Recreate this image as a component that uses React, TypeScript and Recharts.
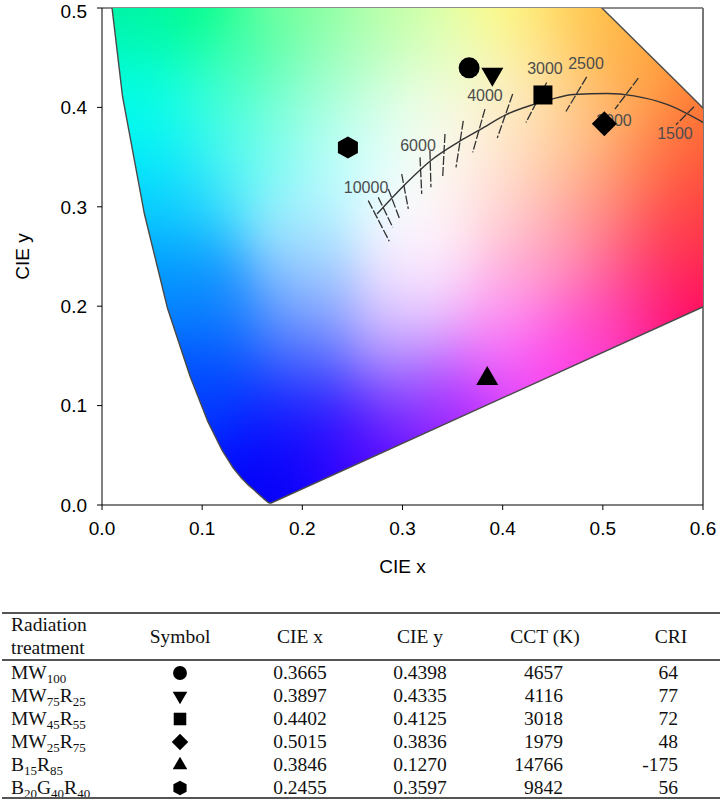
import React from 'react';
import { ScatterChart, Scatter, XAxis, YAxis, ReferenceLine } from 'recharts';

// spectral locus, 380 nm -> 700 nm
const locusX = [0.1690, 0.1688, 0.1686, 0.1684, 0.1682, 0.1680, 0.1676, 0.1670, 0.1663, 0.1652, 0.1638, 0.1619, 0.1594, 0.1561, 0.1518, 0.1462, 0.1394, 0.1310, 0.1198, 0.1056, 0.0877, 0.0654, 0.0423, 0.0205, 0.0055, 0.0039, 0.0139, 0.0389, 0.0743, 0.1142, 0.1547, 0.1929, 0.2296, 0.2658, 0.3016, 0.3373, 0.3731, 0.4087, 0.4441, 0.4788, 0.5125, 0.5448, 0.5752, 0.6029, 0.6270, 0.6658, 0.6915, 0.7079, 0.7190, 0.7260, 0.7347];
const locusY = [0.0020, 0.0020, 0.0020, 0.0020, 0.0020, 0.0020, 0.0020, 0.0020, 0.0024, 0.0031, 0.0042, 0.0059, 0.0082, 0.0111, 0.0150, 0.0200, 0.0270, 0.0372, 0.0551, 0.0841, 0.1300, 0.1980, 0.2930, 0.4110, 0.5384, 0.6548, 0.7502, 0.8120, 0.8338, 0.8262, 0.8059, 0.7816, 0.7543, 0.7243, 0.6923, 0.6589, 0.6245, 0.5896, 0.5547, 0.5202, 0.4866, 0.4544, 0.4242, 0.3965, 0.3725, 0.3340, 0.3083, 0.2920, 0.2809, 0.2740, 0.2610];

// black body curve
const planckX = [0.2747, 0.3030, 0.3280, 0.3580, 0.3780, 0.4040, 0.4310, 0.4480, 0.4710, 0.5040, 0.5310, 0.5640, 0.6000];
const planckY = [0.2929, 0.3230, 0.3464, 0.3665, 0.3780, 0.3930, 0.4030, 0.4080, 0.4130, 0.4140, 0.4116, 0.4030, 0.3850];

// isotherm ticks (two ends each)
const isoX1 = [0.2658, 0.2758, 0.2858, 0.2992, 0.3175, 0.3274, 0.3424, 0.3607, 0.3823, 0.4100, 0.4439, 0.4839, 0.5354, 0.5910];
const isoY1 = [0.3062, 0.3095, 0.3180, 0.3330, 0.3497, 0.3564, 0.3732, 0.3865, 0.3983, 0.4134, 0.4250, 0.4307, 0.4294, 0.4006];
const isoX2 = [0.2868, 0.2902, 0.2975, 0.3058, 0.3192, 0.3284, 0.3401, 0.3534, 0.3701, 0.3946, 0.4233, 0.4632, 0.5121, 0.5730];
const isoY2 = [0.2654, 0.2794, 0.2869, 0.2979, 0.3130, 0.3196, 0.3296, 0.3397, 0.3547, 0.3692, 0.3848, 0.3959, 0.3983, 0.3825];

const cctLabels = ['10000', '6000', '4000', '3000', '2500', '2000', '1500'];
const cctLabelX = [0.2636, 0.3155, 0.3823, 0.4422, 0.4832, 0.5111, 0.5720];
const cctLabelY = [0.3193, 0.3614, 0.4116, 0.4388, 0.4438, 0.3865, 0.3735];

const treatments = ['MW100', 'MW75R25', 'MW45R55', 'MW25R75', 'B15R85', 'B20G40R40'];
const symbols = ['circle', 'triangleDown', 'square', 'diamond', 'triangleUp', 'hexagon'];
const cieX = [0.3665, 0.3897, 0.4402, 0.5015, 0.3846, 0.2455];
const cieY = [0.4398, 0.4335, 0.4125, 0.3836, 0.1270, 0.3597];
const cct = [4657, 4116, 3018, 1979, 14766, 9842];
const cri = [64, 77, 72, 48, -175, 56];

const xTicks = [0, 0.1, 0.2, 0.3, 0.4, 0.5, 0.6];
const yTicks = [0, 0.1, 0.2, 0.3, 0.4, 0.5];
const X_MAX = 0.6;
const Y_MAX = 0.5;

// colour swatches picked from the diagram background
const swatchX = [0.015, 0.08, 0.2, 0.3, 0.4, 0.48, 0.03, 0.15, 0.25, 0.35, 0.45, 0.53, 0.03, 0.1, 0.2, 0.3, 0.4, 0.5, 0.6, 0.04, 0.15, 0.25, 0.35, 0.45, 0.55, 0.05, 0.1, 0.2, 0.3, 0.4, 0.5, 0.6, 0.06, 0.2, 0.32, 0.45, 0.55, 0.08, 0.12, 0.2, 0.3, 0.4, 0.5, 0.6, 0.1, 0.2, 0.3, 0.4, 0.48, 0.12, 0.2, 0.3, 0.38, 0.15, 0.2, 0.25, 0.28, 0.169,
  0.09, 0.06, 0.35, 0.45, 0.55, 0.6, 0.6, 0.55, 0.52, 0.0, 0.0, 0.0, 0.0, 0.05, 0.62, 0.62, 0.62];
const swatchY = [0.5, 0.5, 0.5, 0.5, 0.5, 0.5, 0.45, 0.45, 0.45, 0.45, 0.45, 0.45, 0.4, 0.4, 0.4, 0.4, 0.4, 0.4, 0.4, 0.35, 0.35, 0.35, 0.35, 0.35, 0.35, 0.3, 0.3, 0.3, 0.3, 0.3, 0.3, 0.3, 0.25, 0.25, 0.25, 0.25, 0.25, 0.2, 0.2, 0.2, 0.2, 0.2, 0.2, 0.2, 0.15, 0.15, 0.15, 0.15, 0.15, 0.1, 0.1, 0.1, 0.1, 0.05, 0.05, 0.05, 0.05, 0.0,
  0.13, 0.22, 0.08, 0.13, 0.176, 0.25, 0.35, 0.45, 0.48, 0.5, 0.4, 0.3, 0.2, 0.1, 0.45, 0.3, 0.15];
const swatchColor = [
  '#00F0A8', '#00FF80', '#80FF98', '#C4FFA0', '#FFFF80', '#FFD048',
  '#00FFC8', '#40FFA8', '#A8FFC0', '#E8FFC8', '#FFE8A0', '#FFB050',
  '#00FFF0', '#40FFE0', '#A0FFE0', '#F0FFF0', '#FFF0D0', '#FFC080', '#FF7030',
  '#00F0FF', '#60FFF0', '#C8FFFF', '#FFF8F0', '#FFD0A0', '#FF9050',
  '#00D0FF', '#40E0FF', '#B0F8FF', '#FFFFFF', '#FFD8D8', '#FF9080', '#FF4040',
  '#00A8FF', '#A0D8FF', '#FFF0FF', '#FFA0C0', '#FF5070',
  '#0080FF', '#2090FF', '#90B0FF', '#F0D8FF', '#FFB0F0', '#FF60B0', '#FF0050',
  '#0058FF', '#5070FF', '#C0A0FF', '#FF80FF', '#FF40E0',
  '#0030FF', '#2030FF', '#8050FF', '#D040FF',
  '#0000FF', '#1000FF', '#4000FF', '#6000FF',
  '#0000F0',
  '#0050FF', '#0090FF', '#9000FF', '#FF30F0', '#FF10A0', '#FF2048', '#FF5830', '#FF9A30', '#FFB840',
  '#00F0A0', '#00FFF0', '#00D0FF', '#0080FF', '#0030FF', '#FF8030', '#FF4040', '#FF0050',
];

const locusData = locusX.map((x, i) => ({ x, y: locusY[i] }));
const planckData = planckX.map((x, i) => ({ x, y: planckY[i] }));
const isoData = isoX1.flatMap((x, i) => [
  { x, y: isoY1[i] },
  { x: isoX2[i], y: isoY2[i] },
]);
const labelData = cctLabels.map((label, i) => ({ x: cctLabelX[i], y: cctLabelY[i], label }));
const markerData = treatments.map((name, i) => ({ x: cieX[i], y: cieY[i], kind: symbols[i], name }));

const SANS = '"Liberation Sans", Arial, sans-serif';
const SERIF = '"Liberation Serif", "Times New Roman", serif';

const gamutCache = new Map<string, string>();

function hexRgb(h: string) {
  const n = parseInt(h.slice(1), 16);
  return [(n >> 16) & 255, (n >> 8) & 255, n & 255];
}

// smooth colour field: gaussian-weighted blend of the swatches
function gamutImage(w: number, h: number) {
  const key = w + 'x' + h;
  const hit = gamutCache.get(key);
  if (hit) return hit;
  const canvas = document.createElement('canvas');
  canvas.width = w;
  canvas.height = h;
  const ctx = canvas.getContext('2d');
  if (!ctx) return '';
  const rgb = swatchColor.map(hexRgb);
  const n = swatchX.length;
  const inv = 1 / (2 * 0.042 * 0.042);
  const img = ctx.createImageData(w, h);
  for (let j = 0; j < h; j++) {
    const y = Y_MAX - ((j + 0.5) / h) * Y_MAX;
    for (let i = 0; i < w; i++) {
      const x = ((i + 0.5) / w) * X_MAX;
      let sr = 0, sg = 0, sb = 0, sw = 1e-30;
      for (let s = 0; s < n; s++) {
        const dx = x - swatchX[s];
        const dy = y - swatchY[s];
        const wt = Math.exp(-(dx * dx + dy * dy) * inv);
        sr += wt * rgb[s][0];
        sg += wt * rgb[s][1];
        sb += wt * rgb[s][2];
        sw += wt;
      }
      const k = (j * w + i) * 4;
      img.data[k] = Math.round(sr / sw);
      img.data[k + 1] = Math.round(sg / sw);
      img.data[k + 2] = Math.round(sb / sw);
      img.data[k + 3] = 255;
    }
  }
  ctx.putImageData(img, 0, 0);
  const url = canvas.toDataURL();
  gamutCache.set(key, url);
  return url;
}

function GamutFill(props: any) {
  const pts = props.points || [];
  if (pts.length !== locusX.length) return null;
  const last = pts.length - 1;
  const sx = (pts[last].x - pts[0].x) / (locusX[last] - locusX[0]);
  const sy = (pts[last].y - pts[0].y) / (locusY[last] - locusY[0]);
  const left = pts[0].x - locusX[0] * sx;
  const right = pts[0].x + (X_MAX - locusX[0]) * sx;
  const top = pts[0].y + (Y_MAX - locusY[0]) * sy;
  const bottom = pts[0].y - locusY[0] * sy;
  const w = right - left;
  const h = bottom - top;
  const url = gamutImage(Math.round(w / 2), Math.round(h / 2));
  const poly = pts.map((p: any) => p.x + ',' + p.y).join(' ');
  return (
    <g>
      <defs>
        <clipPath id="gamut-clip">
          <polygon points={poly} />
        </clipPath>
      </defs>
      <image href={url} x={left} y={top} width={w} height={h} preserveAspectRatio="none" clipPath="url(#gamut-clip)" />
      <polygon points={poly} fill="none" stroke="#4a4a4a" strokeWidth={1.4} />
    </g>
  );
}

function IsoTicks(props: any) {
  const pts = props.points || [];
  const segs = [];
  for (let i = 0; i + 1 < pts.length; i += 2) {
    segs.push(
      <line key={i} x1={pts[i].x} y1={pts[i].y} x2={pts[i + 1].x} y2={pts[i + 1].y}
        stroke="#333" strokeWidth={1.3} strokeDasharray="9 2" />
    );
  }
  return <g>{segs}</g>;
}

function Marker({ kind, cx, cy, k = 1 }: { kind: string; cx: number; cy: number; k?: number }) {
  if (kind === 'circle') return <circle cx={cx} cy={cy} r={10.5 * k} fill="#000" />;
  if (kind === 'square') {
    const s = 19 * k;
    return <rect x={cx - s / 2} y={cy - s / 2} width={s} height={s} fill="#000" />;
  }
  if (kind === 'diamond') {
    const s = 12.5 * k;
    return <polygon points={`${cx},${cy - s} ${cx + s},${cy} ${cx},${cy + s} ${cx - s},${cy}`} fill="#000" />;
  }
  if (kind === 'triangleDown') {
    const w = 22 * k, h = 19 * k;
    return <polygon points={`${cx - w / 2},${cy - h / 3} ${cx + w / 2},${cy - h / 3} ${cx},${cy + (2 * h) / 3}`} fill="#000" />;
  }
  if (kind === 'triangleUp') {
    const w = 22 * k, h = 19 * k;
    return <polygon points={`${cx - w / 2},${cy + h / 3} ${cx + w / 2},${cy + h / 3} ${cx},${cy - (2 * h) / 3}`} fill="#000" />;
  }
  const w = 20 * k, h = 22 * k;
  return (
    <polygon
      points={`${cx},${cy - h / 2} ${cx + w / 2},${cy - h / 4} ${cx + w / 2},${cy + h / 4} ${cx},${cy + h / 2} ${cx - w / 2},${cy + h / 4} ${cx - w / 2},${cy - h / 4}`}
      fill="#000"
    />
  );
}

const noDot = () => <g />;

function Chart() {
  return (
    <ScatterChart width={720} height={610} margin={{ top: 8, right: 17, bottom: 0, left: 0 }}>
      <XAxis
        type="number"
        dataKey="x"
        domain={[0, X_MAX]}
        ticks={xTicks}
        allowDataOverflow
        height={105}
        stroke="#000"
        tickSize={5}
        tickMargin={12}
        tickFormatter={(v: number) => v.toFixed(1)}
        tick={{ fill: '#000', fontSize: 19, fontFamily: SANS }}
        label={{
          content: (p: any) => (
            <text x={p.viewBox.x + p.viewBox.width / 2} y={p.viewBox.y + 61} textAnchor="middle"
              dominantBaseline="central" fontSize={19} fontFamily={SANS} fill="#000">CIE x</text>
          ),
        }}
      />
      <YAxis
        type="number"
        dataKey="y"
        domain={[0, Y_MAX]}
        ticks={yTicks}
        allowDataOverflow
        width={102}
        stroke="#000"
        tickSize={5}
        tickMargin={10}
        tickFormatter={(v: number) => v.toFixed(1)}
        tick={{ fill: '#000', fontSize: 19, fontFamily: SANS }}
        label={{
          content: (p: any) => {
            const cx = p.viewBox.x + 22;
            const cy = p.viewBox.y + p.viewBox.height / 2;
            return (
              <text x={cx} y={cy} transform={`rotate(-90 ${cx} ${cy})`} textAnchor="middle"
                dominantBaseline="central" fontSize={19} fontFamily={SANS} fill="#000">CIE y</text>
            );
          },
        }}
      />
      <Scatter data={locusData} line={GamutFill} lineType="joint" shape={noDot} isAnimationActive={false} />
      <Scatter data={planckData} line={{ stroke: '#333', strokeWidth: 1.4 }} lineJointType="monotoneX"
        shape={noDot} isAnimationActive={false} />
      <Scatter data={isoData} line={IsoTicks} lineType="joint" shape={noDot} isAnimationActive={false} />
      <Scatter
        data={labelData}
        isAnimationActive={false}
        shape={(p: any) => (
          <text x={p.cx} y={p.cy} textAnchor="middle" dominantBaseline="central" fontSize={16}
            fontFamily={SANS} fill="#4d4d4d">{p.payload.label}</text>
        )}
      />
      <Scatter
        data={markerData}
        isAnimationActive={false}
        shape={(p: any) => <Marker kind={p.payload.kind} cx={p.cx} cy={p.cy} />}
      />
      <ReferenceLine y={Y_MAX} stroke="#666" strokeWidth={1.5} />
      <ReferenceLine x={X_MAX} stroke="#777" strokeWidth={2} />
    </ScatterChart>
  );
}

function Name({ text }: { text: string }) {
  const parts = text.match(/[A-Za-z]+\d+/g) || [text];
  return (
    <span>
      {parts.map((p, i) => {
        const m = p.match(/([A-Za-z]+)(\d+)/);
        if (!m) return <span key={i}>{p}</span>;
        return (
          <span key={i}>
            {m[1]}
            <span style={{ fontSize: 13, position: 'relative', top: 4 }}>{m[2]}</span>
          </span>
        );
      })}
    </span>
  );
}

const ROW_H = 23;

function Cell({ left, width, top, align, children }: any) {
  return (
    <div style={{ position: 'absolute', left, width, top, height: ROW_H, lineHeight: ROW_H + 'px', textAlign: align, whiteSpace: 'nowrap' }}>
      {children}
    </div>
  );
}

function Table() {
  const rule = (top: number) => (
    <div style={{ position: 'absolute', left: 2, right: 0, top, height: 1.5, background: '#555' }} />
  );
  const head = 625;
  return (
    <div style={{ position: 'absolute', left: 0, top: 0, width: 720, height: 800, fontFamily: SERIF, fontSize: 19.5, color: '#111' }}>
      {rule(612)}
      <Cell left={11} width={150} top={613} align="left">Radiation</Cell>
      <Cell left={11} width={150} top={636} align="left">treatment</Cell>
      <Cell left={130} width={100} top={head} align="center">Symbol</Cell>
      <Cell left={250} width={100} top={head} align="center">CIE x</Cell>
      <Cell left={370} width={100} top={head} align="center">CIE y</Cell>
      <Cell left={495} width={100} top={head} align="center">CCT (K)</Cell>
      <Cell left={621} width={100} top={head} align="center">CRI</Cell>
      {rule(659)}
      {treatments.map((t, i) => {
        const top = 661 + i * ROW_H;
        return (
          <React.Fragment key={t}>
            <Cell left={11} width={150} top={top} align="left"><Name text={t} /></Cell>
            <div style={{ position: 'absolute', left: 170, top: top + 2, width: 20, height: 20 }}>
              <svg width={20} height={20}>
                <Marker kind={symbols[i]} cx={10} cy={10} k={0.66} />
              </svg>
            </div>
            <Cell left={250} width={100} top={top} align="center">{cieX[i].toFixed(4)}</Cell>
            <Cell left={370} width={100} top={top} align="center">{cieY[i].toFixed(4)}</Cell>
            <Cell left={463} width={100} top={top} align="right">{cct[i]}</Cell>
            <Cell left={578} width={100} top={top} align="right">{cri[i]}</Cell>
          </React.Fragment>
        );
      })}
      {rule(797)}
    </div>
  );
}

export default function App() {
  return (
    <div style={{ position: 'absolute', left: 0, top: 0, width: 720, height: 800, background: '#fff' }}>
      <div style={{ position: 'absolute', left: 0, top: 0 }}>
        <Chart />
      </div>
      <Table />
    </div>
  );
}
